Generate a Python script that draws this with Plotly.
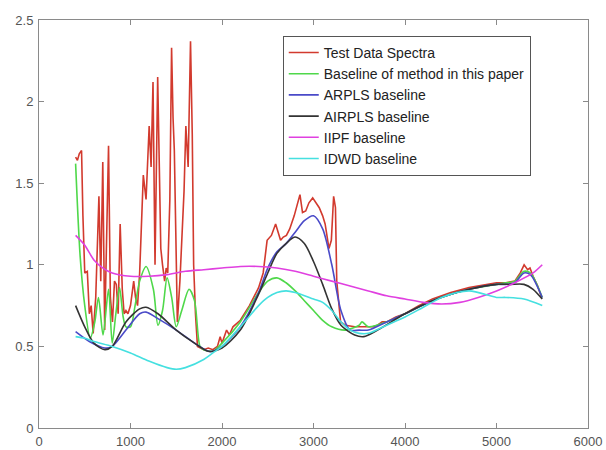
import plotly.graph_objects as go

# Test Data Spectra (red)
red_x = [400, 420, 440, 465, 480, 500, 528, 550, 570, 592, 620, 655, 675, 697, 718, 740, 760, 780,
         803, 825, 845, 865, 887, 910, 930, 950, 972, 1000, 1035, 1055, 1077, 1100, 1140, 1170, 1204,
         1225, 1246, 1268, 1297, 1315, 1331, 1350, 1373, 1390, 1407, 1430, 1449, 1465, 1479, 1495,
         1512, 1540, 1563, 1585, 1605, 1630, 1656, 1675, 1690, 1710, 1732, 1760, 1800, 1850, 1900,
         1950, 1980, 2000, 2050, 2080, 2120, 2200, 2300, 2400, 2450, 2493, 2540, 2586, 2615, 2640,
         2670, 2704, 2740, 2789, 2852, 2880, 2915, 2950, 2991, 3030, 3063, 3100, 3127, 3169, 3195,
         3220, 3240, 3254, 3275, 3296, 3350, 3450, 3550, 3650, 3700, 3750, 3800, 3900, 4000, 4150,
         4300, 4500, 4700, 4900, 5000, 5100, 5200, 5260, 5302, 5340, 5366, 5400, 5450, 5493]
red_y = [1.66, 1.64, 1.68, 1.70, 1.30, 0.95, 0.96, 0.70, 0.75, 0.58, 0.80, 1.42, 0.90, 1.63, 0.60, 1.20,
         1.73, 0.80, 0.65, 0.90, 0.88, 0.70, 1.25, 0.85, 0.70, 0.72, 0.70, 0.75, 0.90, 0.80, 0.75, 0.95,
         1.55, 1.40, 1.85, 1.60, 2.12, 1.00, 2.15, 1.60, 1.10, 1.00, 0.90, 0.98, 0.95, 1.40, 2.33, 1.90,
         1.70, 1.20, 0.65, 0.90, 1.20, 1.45, 1.85, 1.60, 2.37, 1.80, 1.00, 0.70, 0.50, 0.49, 0.48, 0.49,
         0.48, 0.50, 0.56, 0.52, 0.60, 0.57, 0.62, 0.66, 0.75, 0.86, 0.95, 1.15, 1.18, 1.25, 1.20, 1.15,
         1.17, 1.18, 1.22, 1.30, 1.43, 1.32, 1.33, 1.38, 1.41, 1.38, 1.35, 1.30, 1.25, 1.10, 1.15, 1.42,
         1.35, 0.90, 0.75, 0.65, 0.63, 0.62, 0.62, 0.62, 0.63, 0.65, 0.65, 0.68, 0.70, 0.75, 0.79, 0.83,
         0.86, 0.88, 0.89, 0.89, 0.90, 0.95, 1.00, 0.97, 0.98, 0.93, 0.87, 0.80]

# Baseline of method in this paper (green)
green_x = [400, 450, 500, 560, 610, 650, 700, 760, 800, 840, 880, 920, 950, 1000, 1050, 1100, 1170,
           1250, 1300, 1350, 1400, 1450, 1500, 1560, 1640, 1700, 1760, 1800, 1900, 2000, 2200, 2400,
           2500, 2600, 2700, 2800, 2900, 3000, 3100, 3200, 3350, 3500, 3530, 3600, 3800, 4000, 4300,
           4700, 5000, 5100, 5200, 5300, 5370, 5500]
green_y = [1.62, 1.05, 0.75, 0.55, 0.65, 0.80, 0.57, 0.85, 0.52, 0.70, 0.86, 0.68, 0.62, 0.62, 0.75,
           0.90, 0.99, 0.85, 0.63, 0.72, 0.92, 0.80, 0.62, 0.72, 0.85, 0.78, 0.50, 0.48, 0.47, 0.52,
           0.65, 0.83, 0.90, 0.92, 0.89, 0.84, 0.78, 0.72, 0.66, 0.62, 0.60, 0.63, 0.65, 0.62, 0.65,
           0.70, 0.78, 0.85, 0.88, 0.89, 0.90, 0.96, 0.95, 0.80]

# ARPLS baseline (blue)
blue_x = [400, 550, 720, 800, 950, 1100, 1170, 1300, 1500, 1700, 1850, 1900, 2000, 2200, 2400, 2500,
          2600, 2700, 2800, 2900, 3000, 3100, 3200, 3300, 3400, 3500, 3600, 3800, 4000, 4300, 4700,
          5000, 5100, 5200, 5300, 5370, 5500]
blue_y = [0.59, 0.53, 0.49, 0.50, 0.60, 0.70, 0.71, 0.67, 0.60, 0.52, 0.47, 0.47, 0.50, 0.62, 0.83,
          0.98, 1.08, 1.13, 1.20, 1.27, 1.30, 1.22, 1.00, 0.72, 0.60, 0.60, 0.60, 0.65, 0.70, 0.78,
          0.85, 0.88, 0.88, 0.89, 0.95, 0.94, 0.80]

# AIRPLS baseline (black)
black_x = [400, 500, 600, 720, 800, 950, 1100, 1170, 1300, 1500, 1700, 1850, 2000, 2200, 2400, 2500,
           2600, 2700, 2800, 2900, 3000, 3100, 3200, 3300, 3450, 3550, 3700, 4000, 4300, 4700, 5000,
           5150, 5300, 5400, 5500]
black_y = [0.75, 0.62, 0.52, 0.48, 0.50, 0.65, 0.73, 0.74, 0.70, 0.60, 0.52, 0.47, 0.49, 0.60, 0.82,
           0.95, 1.07, 1.13, 1.17, 1.13, 1.02, 0.88, 0.73, 0.63, 0.57, 0.56, 0.60, 0.70, 0.78, 0.85,
           0.88, 0.88, 0.88, 0.85, 0.79]

# IIPF baseline (magenta)
mag_x = [400, 500, 600, 700, 800, 1000, 1200, 1400, 1600, 1800, 2000, 2200, 2400, 2600, 2800, 3000,
         3200, 3400, 3600, 3800, 4000, 4200, 4400, 4600, 4800, 5000, 5200, 5400, 5500]
mag_y = [1.18, 1.12, 1.03, 0.98, 0.95, 0.93, 0.93, 0.94, 0.96, 0.97, 0.98, 0.99, 0.99, 0.98, 0.96,
         0.93, 0.90, 0.87, 0.84, 0.81, 0.79, 0.77, 0.76, 0.77, 0.80, 0.84, 0.89, 0.95, 1.00]

# IDWD baseline (cyan)
cyan_x = [400, 500, 600, 800, 1000, 1200, 1400, 1500, 1600, 1800, 1900, 2000, 2200, 2400, 2500, 2600,
          2700, 2800, 3000, 3100, 3200, 3300, 3400, 3500, 3600, 3800, 4000, 4200, 4400, 4700, 5000,
          5100, 5300, 5500]
cyan_y = [0.56, 0.55, 0.53, 0.50, 0.46, 0.41, 0.37, 0.36, 0.37, 0.42, 0.46, 0.50, 0.62, 0.75, 0.80,
          0.83, 0.84, 0.83, 0.79, 0.77, 0.72, 0.65, 0.60, 0.58, 0.58, 0.63, 0.68, 0.74, 0.80, 0.84,
          0.80, 0.80, 0.79, 0.75]

series = [
    ("Test Data Spectra", red_x, red_y, "#d23a2e", "linear"),
    ("Baseline of method in this paper", green_x, green_y, "#4fd84a", "spline"),
    ("ARPLS baseline", blue_x, blue_y, "#4a4ac8", "spline"),
    ("AIRPLS baseline", black_x, black_y, "#333333", "spline"),
    ("IIPF baseline", mag_x, mag_y, "#e040e0", "spline"),
    ("IDWD baseline", cyan_x, cyan_y, "#45e0e0", "spline"),
]

fig = go.Figure()
for name, xs, ys, col, shape in series:
    fig.add_trace(go.Scatter(x=xs, y=ys, mode="lines", name=name,
                             line=dict(color=col, width=1.6, shape=shape, smoothing=0.8)))

axis_common = dict(showgrid=False, zeroline=False, showline=True, linecolor="#8a8a8a", linewidth=1,
                   mirror="ticks", ticks="inside", ticklen=5, tickcolor="#8a8a8a", automargin=False,
                   tickfont=dict(family="Liberation Sans", size=13, color="#555555"))

fig.update_layout(
    width=606, height=450,
    margin=dict(l=39, r=18, t=20, b=22),
    paper_bgcolor="white", plot_bgcolor="white",
    font=dict(family="Liberation Sans", size=13, color="#222222"),
    xaxis=dict(range=[0, 6000], dtick=1000, ticklabelstandoff=1, **axis_common),
    yaxis=dict(range=[0, 2.5], dtick=0.5, ticklabelstandoff=2, **axis_common),
    legend=dict(x=0.444, y=0.961, xanchor="left", yanchor="top", bgcolor="white",
                bordercolor="#555555", borderwidth=1, font=dict(size=14, color="#222222"),
                tracegroupgap=0, itemwidth=30),
    showlegend=True,
)

fig.write_html("out.html")
